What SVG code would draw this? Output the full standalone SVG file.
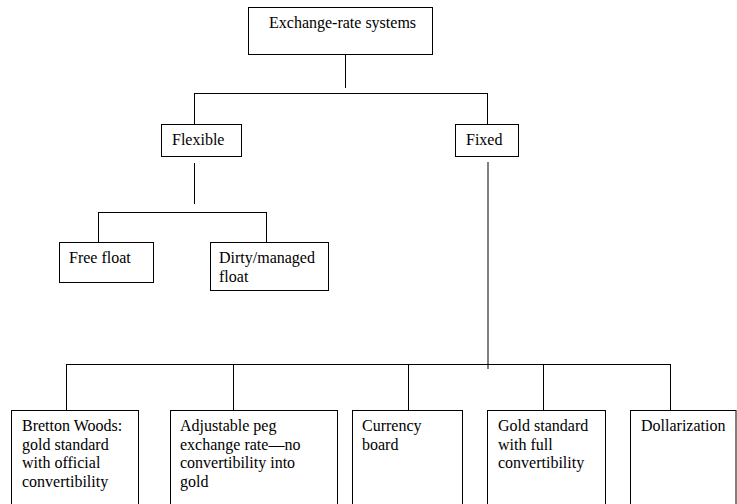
<svg xmlns="http://www.w3.org/2000/svg" width="737" height="504" viewBox="0 0 737 504">
<style>
.box{fill:#fff;stroke:#000;stroke-width:1}
.ln{fill:none;stroke:#000;stroke-width:1}
.gl{fill:none;stroke:#808080;stroke-width:2}
text{font-family:"Liberation Serif","Times New Roman",serif;font-size:16px;fill:#000}
</style>
<rect width="737" height="504" fill="#fff"/>
<g id="connectors">
<path class="ln" d="M345.5 54V88M194.5 93.5H487.5M194.5 93V124M487.5 93V124"/>
<path class="ln" d="M194.5 163V204M98.5 212.5H266.5M98.5 212V242M266.5 212V242"/>
<path class="gl" d="M488 162V369"/>
<path class="ln" d="M66.5 364.5H670.5M66.5 364V410M233.5 364V410M408.5 364V410M543.5 364V410M670.5 364V410"/>
</g>
<g id="root"><rect class="box" x="248.5" y="7.5" width="184" height="47"/><text x="269" y="28">Exchange-rate systems</text></g>
<g id="flexible"><rect class="box" x="161.5" y="124.5" width="80" height="32"/><text x="172" y="145">Flexible</text></g>
<g id="fixed"><rect class="box" x="455.5" y="124.5" width="63" height="32"/><text x="466" y="145">Fixed</text></g>
<g id="free-float"><rect class="box" x="59.5" y="242.5" width="94" height="40"/><text x="69" y="263">Free float</text></g>
<g id="dirty-float"><rect class="box" x="210.5" y="242.5" width="118" height="48"/><text x="219" y="263">Dirty/managed</text><text x="219" y="282">float</text></g>
<g id="bretton-woods"><rect class="box" x="11.5" y="410.5" width="127" height="110"/><text x="22" y="431">Bretton Woods:</text><text x="22" y="450">gold standard</text><text x="22" y="468">with official</text><text x="22" y="487">convertibility</text></g>
<g id="adjustable-peg"><rect class="box" x="170.5" y="410.5" width="167" height="110"/><text x="180" y="431">Adjustable peg</text><text x="180" y="450">exchange rate—no</text><text x="180" y="468">convertibility into</text><text x="180" y="487">gold</text></g>
<g id="currency-board"><rect class="box" x="352.5" y="410.5" width="110" height="110"/><text x="362" y="431">Currency</text><text x="362" y="450">board</text></g>
<g id="gold-standard"><rect class="box" x="487.5" y="410.5" width="118" height="110"/><text x="498" y="431">Gold standard</text><text x="498" y="450">with full</text><text x="498" y="468">convertibility</text></g>
<g id="dollarization"><rect class="box" x="630.5" y="410.5" width="105.5" height="110"/><text x="641" y="431">Dollarization</text></g>
</svg>
